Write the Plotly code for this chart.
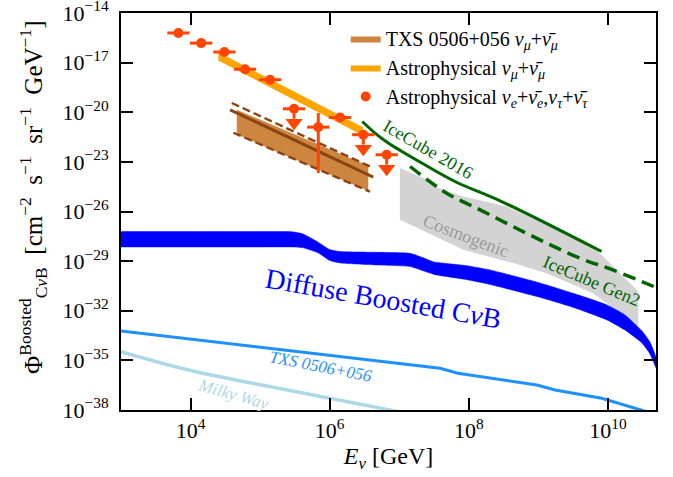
import plotly.graph_objects as go

# ---------------- data ----------------
# Astrophysical nu_e+nu_e_bar, nu_tau+nu_tau_bar (data points, GeV / cm^-2 s^-1 sr^-1 GeV^-1)
cas_E    = [6.68e3, 1.42e4, 3.06e4, 6.07e4, 1.39e5, 3.07e5, 6.85e5, 1.41e6, 3.04e6, 6.59e6]
cas_E_lo = [4.62e3, 9.8e3, 2.12e4, 4.2e4, 9.6e4, 2.12e5, 4.74e5, 9.7e5, 2.10e6, 4.56e6]
cas_E_hi = [9.66e3, 2.05e4, 4.43e4, 8.77e4, 2.00e5, 4.44e5, 9.91e5, 2.03e6, 4.40e6, 9.53e6]
cas_F    = [6.2e-16, 1.51e-16, 4.4e-17, 4.0e-18, 9.3e-19, 1.62e-20, 1.26e-21, 4.8e-21, 4.4e-22, 2.7e-23]
cas_F_lo = [6.2e-16, 1.51e-16, 4.4e-17, 4.0e-18, 9.3e-19, 1.62e-20, 2.1e-24, 4.8e-21, 4.4e-22, 2.7e-23]
cas_F_hi = [6.2e-16, 1.51e-16, 4.4e-17, 4.0e-18, 9.3e-19, 1.62e-20, 8.9e-21, 4.8e-21, 4.4e-22, 2.7e-23]
cas_upper_limit = [False, False, False, False, False, True, False, False, True, True]

# Astrophysical nu_mu + nu_mu_bar band
astro_E     = [2.51e4, 3.01e6]
astro_upper = [4.27e-17, 1.23e-21]
astro_lower = [1.35e-17, 3.9e-22]

# TXS 0506+056 nu_mu band
txs_fill_E     = [4.61e4, 3.59e6]
txs_fill_upper = [1.41e-20, 5.9e-24]
txs_fill_lower = [4.7e-22, 1.74e-25]
txs_dash_up_E  = [3.91e4, 3.79e6]
txs_dash_up_F  = [3.63e-20, 5.25e-24]
txs_dash_lo_E  = [4.12e4, 3.79e6]
txs_dash_lo_F  = [5.75e-22, 1.58e-25]
txs_best_E     = [3.70e4, 4.23e6]
txs_best_F     = [1.41e-20, 1.20e-24]

# IceCube 2016 limit and IceCube-Gen2 sensitivity
ic16_E = [2.94e6, 4.48e6, 6.95e6, 2.10e7, 6.31e7, 2.96e8, 8.09e9]
ic16_F = [2.75e-21, 5.5e-22, 1.38e-22, 8.5e-24, 6.5e-25, 4.0e-26, 3.8e-29]
gen2_E = [1.43e7, 4.80e7, 1.45e8, 4.31e8, 1.31e9, 3.94e9, 1.17e10, 6.0e10]
gen2_F = [5.25e-24, 1.29e-25, 1.26e-26, 1.23e-27, 1.23e-28, 1.51e-29, 2.95e-30, 1.8e-31]

# Cosmogenic band
cosmo_top_E = [1.02e7, 2.21e7, 3.60e7, 8.32e7, 3.49e8, 6.12e9, 1.19e10, 2.72e10]
cosmo_top_F = [4.2e-24, 1.05e-24, 2.7e-25, 8.1e-26, 2.0e-26, 7.6e-29, 4.7e-30, 1.45e-31]
cosmo_bot_E = [1.02e7, 8.32e7, 4.35e8, 1.31e9, 6.12e9, 2.72e10]
cosmo_bot_F = [3.2e-27, 4.8e-29, 7.6e-30, 1.86e-30, 1.15e-31, 1.10e-33]

# Diffuse boosted CvB band
cvb_E     = [1.0e3, 1.0e4, 1.0e5, 2.8e5, 4.0e5, 6.79e5, 1.0e6, 1.41e6, 5.0e6, 1.43e7, 2.2e7,
             3.16e7, 8.79e7, 2.01e8, 1.05e9, 3.35e9, 9.66e9, 1.75e10, 3.08e10, 4.01e10, 4.9e10]
cvb_upper = [6.2e-28, 6.2e-28, 6.2e-28, 6.0e-28, 4.6e-28, 1.4e-28, 5.0e-29, 3.8e-29, 3.4e-29, 2.95e-29, 1.6e-29,
             8.9e-30, 5.5e-30, 2.95e-30, 4.8e-31, 1.05e-31, 2.24e-32, 5.6e-33, 6.0e-34, 1.29e-34, 1.62e-35]
cvb_lower = [7.2e-29, 7.2e-29, 7.2e-29, 7.2e-29, 6.6e-29, 3.2e-29, 1.1e-29, 7.8e-30, 5.8e-30, 4.7e-30, 2.6e-30,
             1.58e-30, 7.9e-31, 3.9e-31, 6.5e-32, 1.48e-32, 2.8e-33, 6.9e-34, 1.12e-34, 2.45e-35, 3.5e-36]

# Boosted CvB from TXS 0506+056 and from the Milky Way
txsb_E = [1.0e3, 9.7e5, 3.85e7, 6.97e7, 9.5e8, 1.73e9, 8.13e9, 2.97e10, 5.6e10]
txsb_F = [6.0e-34, 2.14e-35, 3.3e-36, 1.66e-36, 3.24e-37, 1.62e-37, 5.1e-38, 1.0e-38, 4.4e-39]
mw_E = [1.0e3, 9.4e3, 1.84e5, 7.3e6, 1.98e7]
mw_F = [3.4e-35, 2.63e-36, 2.04e-37, 1.02e-38, 4.4e-39]

x_tick_vals = [1e4, 1e6, 1e8, 1e10]
x_tick_text = ["10<sup>4</sup>", "10<sup>6</sup>", "10<sup>8</sup>", "10<sup>10</sup>"]
y_tick_exps = [-14, -17, -20, -23, -26, -29, -32, -35, -38]

# ---------------- figure ----------------
FONT = "Liberation Serif"
RED = "#FF4500"
fig = go.Figure()

# cosmogenic
fig.add_trace(go.Scatter(x=cosmo_top_E + cosmo_bot_E[::-1], y=cosmo_top_F + cosmo_bot_F[::-1],
                         fill="toself", fillcolor="#D3D3D3", line=dict(width=0),
                         mode="lines", showlegend=False, hoverinfo="skip"))
# IceCube lines
fig.add_trace(go.Scatter(x=ic16_E, y=ic16_F, mode="lines", line=dict(color="#006400", width=3, shape="spline"),
                         showlegend=False))
fig.add_trace(go.Scatter(x=gen2_E, y=gen2_F, mode="lines",
                         line=dict(color="#006400", width=3.5, dash="13px,7px", shape="spline"),
                         showlegend=False))
# diffuse boosted CvB band
fig.add_trace(go.Scatter(x=cvb_E, y=cvb_lower, mode="lines",
                         line=dict(color="#0000FF", width=0.5, shape="spline", smoothing=0.5),
                         showlegend=False))
fig.add_trace(go.Scatter(x=cvb_E, y=cvb_upper, mode="lines", fill="tonexty", fillcolor="#0000FF",
                         line=dict(color="#0000FF", width=0.5, shape="spline", smoothing=0.5),
                         showlegend=False))
# TXS boosted, Milky Way
fig.add_trace(go.Scatter(x=txsb_E, y=txsb_F, mode="lines", line=dict(color="#1E90FF", width=3),
                         showlegend=False))
fig.add_trace(go.Scatter(x=mw_E, y=mw_F, mode="lines", line=dict(color="#ADD8E6", width=3.5, shape="spline"),
                         showlegend=False))

# TXS nu_mu band
fig.add_trace(go.Scatter(x=txs_fill_E + txs_fill_E[::-1], y=txs_fill_upper + txs_fill_lower[::-1],
                         fill="toself", fillcolor="#CD853F", line=dict(width=0, color="#CD853F"),
                         mode="lines", legendgroup="a",
                         name="TXS 0506+056 <i>ν</i><sub><i>μ</i></sub>+<i>ν̄</i><sub><i>μ</i></sub>"))
for ex, fy in [(txs_dash_up_E, txs_dash_up_F), (txs_dash_lo_E, txs_dash_lo_F)]:
    fig.add_trace(go.Scatter(x=ex, y=fy, mode="lines", line=dict(color="#8B4513", width=2.4, dash="8px,4px"),
                             showlegend=False))
fig.add_trace(go.Scatter(x=txs_best_E, y=txs_best_F, mode="lines", line=dict(color="#8B4513", width=3),
                         showlegend=False))

# astrophysical nu_mu band
fig.add_trace(go.Scatter(x=astro_E + astro_E[::-1], y=astro_upper + astro_lower[::-1],
                         fill="toself", fillcolor="#FFA500", line=dict(width=0, color="#FFA500"),
                         mode="lines", legendgroup="b",
                         name="Astrophysical <i>ν</i><sub><i>μ</i></sub>+<i>ν̄</i><sub><i>μ</i></sub>"))

# data points
meas = [i for i, u in enumerate(cas_upper_limit) if not u]
uls = [i for i, u in enumerate(cas_upper_limit) if u]
fig.add_trace(go.Scatter(
    x=[cas_E[i] for i in meas], y=[cas_F[i] for i in meas], mode="markers",
    marker=dict(color=RED, size=10, symbol="circle"),
    error_x=dict(type="data", symmetric=False,
                 array=[cas_E_hi[i] - cas_E[i] for i in meas],
                 arrayminus=[cas_E[i] - cas_E_lo[i] for i in meas],
                 color=RED, thickness=3, width=0),
    error_y=dict(type="data", symmetric=False,
                 array=[cas_F_hi[i] - cas_F[i] for i in meas],
                 arrayminus=[cas_F[i] - cas_F_lo[i] for i in meas],
                 color=RED, thickness=3, width=0),
    legendgroup="c",
    name="Astrophysical <i>ν</i><sub><i>e</i></sub>+<i>ν̄</i><sub><i>e</i></sub>,"
         "<i>ν</i><sub><i>τ</i></sub>+<i>ν̄</i><sub><i>τ</i></sub>"))
fig.add_trace(go.Scatter(
    x=[cas_E[i] for i in uls], y=[cas_F[i] for i in uls], mode="markers",
    marker=dict(color=RED, size=10, symbol="circle"),
    error_x=dict(type="data", symmetric=False,
                 array=[cas_E_hi[i] - cas_E[i] for i in uls],
                 arrayminus=[cas_E[i] - cas_E_lo[i] for i in uls],
                 color=RED, thickness=3, width=0),
    error_y=dict(type="data", symmetric=False, array=[0 for i in uls],
                 arrayminus=[cas_F[i] * (1 - 10 ** -0.6) for i in uls],
                 color=RED, thickness=3, width=0),
    showlegend=False))
fig.add_trace(go.Scatter(
    x=[cas_E[i] for i in uls], y=[cas_F[i] * 10 ** -0.85 for i in uls], mode="markers",
    marker=dict(color=RED, size=15, symbol="triangle-down", line=dict(width=0)),
    showlegend=False))

# ---------------- labels ----------------
L, R, T, B = 121, 656, 13, 410
def px2paper(px, py):
    return (px - L) / (R - L), (B - py) / (B - T)

labels = [
    ("Diffuse Boosted C<i>ν</i>B", 383, 298, 10, 28, "#0000FF"),
    ("Cosmogenic", 466, 236, 21, 18, "#999999"),
    ("IceCube 2016", 427.5, 149, 30, 18, "#006400"),
    ("IceCube Gen2", 591.7, 281, 23, 18, "#006400"),
    ("<i>TXS 0506+056</i>", 320.6, 366, 11, 17, "#1E90FF"),
    ("<i>Milky Way</i>", 233.6, 394, 16, 17, "#ADD8E6"),
]
for txt, px, py, ang, sz, col in labels:
    ax_, ay_ = px2paper(px, py)
    fig.add_annotation(x=ax_, y=ay_, xref="paper", yref="paper", text=txt, showarrow=False,
                       xanchor="center", yanchor="middle",
                       textangle=ang, font=dict(family=FONT, size=sz, color=col))

# y-axis title
NB = "\u00a0"
ytitle = ("Φ<sup>Boosted</sup><sub>C<i>ν</i>B</sub>" + NB * 2 + "[cm<sup>−2</sup>" + NB * 2 + "s<sup>−1</sup>"
          + NB * 2 + "sr<sup>−1</sup>" + NB * 2 + "GeV<sup>−1</sup>]")
tx, ty = px2paper(33, 197)
fig.add_annotation(x=tx, y=ty, xref="paper", yref="paper", text=ytitle, showarrow=False,
                   xanchor="center", yanchor="middle", textangle=-90,
                   font=dict(family=FONT, size=25, color="black"))

axis_common = dict(type="log", showline=True, linecolor="black", linewidth=1.8, mirror="ticks",
                   ticks="inside", ticklen=12, tickwidth=1.8, tickcolor="black", ticklabeloverflow="allow",
                   showgrid=False, zeroline=False, tickfont=dict(family=FONT, size=22, color="black"))
fig.update_xaxes(**axis_common, range=[3.0, 10.69], tickmode="array",
                 tickvals=x_tick_vals, ticktext=x_tick_text,
                 title=dict(text="<i>E<sub>ν</sub></i> [GeV]", font=dict(family=FONT, size=24, color="black"),
                            standoff=5))
fig.update_yaxes(**axis_common, range=[-38, -14], tickmode="array",
                 tickvals=[10.0 ** e for e in y_tick_exps],
                 ticktext=["10<sup>−%d</sup>" % (-e) for e in y_tick_exps],
                 ticklabelstandoff=6)

fig.update_layout(
    width=673, height=477, margin=dict(l=L, r=673 - R, t=T, b=477 - B, autoexpand=False),
    paper_bgcolor="white", plot_bgcolor="white",
    legend=dict(x=0.42, y=0.985, xanchor="left", yanchor="top", bgcolor="rgba(0,0,0,0)",
                font=dict(family=FONT, size=20, color="black"), tracegroupgap=0, traceorder="normal"),
)

fig.write_html("out.html", config={"displayModeBar": False},
               post_script="document.body.style.margin='0';document.body.style.overflow='hidden';")
